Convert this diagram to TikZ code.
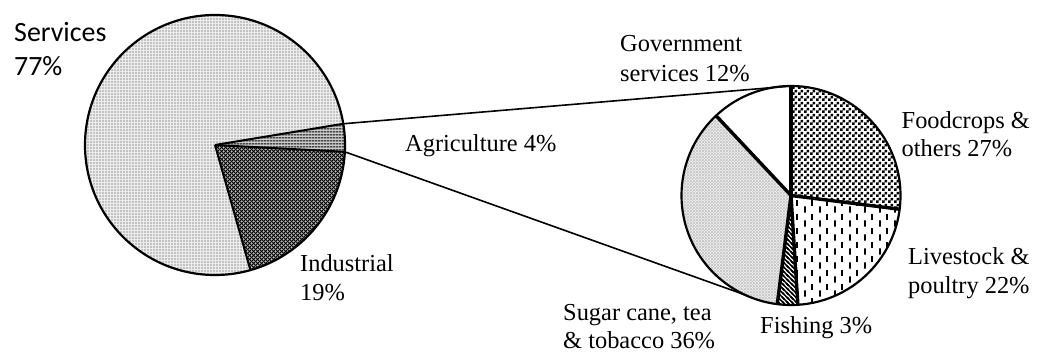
\documentclass[tikz,border=0pt]{standalone}
\usepackage{fontspec}
\setmainfont{Liberation Serif}
\newfontfamily\calib{Carlito}
\usetikzlibrary{patterns}
% pattern tiles
\pgfdeclarepatternformonly{servdots}{\pgfqpoint{0bp}{0bp}}{\pgfqpoint{3bp}{3bp}}{\pgfqpoint{3bp}{3bp}}{%
  \pgfpathrectangle{\pgfqpoint{0.6bp}{0.6bp}}{\pgfqpoint{1.7bp}{1.7bp}}\pgfusepath{fill}}
\pgfdeclarepatternformonly{aghl}{\pgfqpoint{0bp}{0bp}}{\pgfqpoint{3bp}{3bp}}{\pgfqpoint{3bp}{3bp}}{%
  \pgfsetlinewidth{1.3bp}\pgfpathmoveto{\pgfqpoint{-0.2bp}{1.5bp}}\pgfpathlineto{\pgfqpoint{3.2bp}{1.5bp}}\pgfusepath{stroke}}
\pgfdeclarepatternformonly{indx}{\pgfqpoint{0bp}{0bp}}{\pgfqpoint{4bp}{4bp}}{\pgfqpoint{4bp}{4bp}}{%
  \pgfsetlinewidth{1.1bp}%
  \pgfpathmoveto{\pgfqpoint{-0.5bp}{-0.5bp}}\pgfpathlineto{\pgfqpoint{4.5bp}{4.5bp}}%
  \pgfpathmoveto{\pgfqpoint{-0.5bp}{4.5bp}}\pgfpathlineto{\pgfqpoint{4.5bp}{-0.5bp}}\pgfusepath{stroke}}
\pgfdeclarepatternformonly{sugx}{\pgfqpoint{0bp}{0bp}}{\pgfqpoint{3bp}{3bp}}{\pgfqpoint{3bp}{3bp}}{%
  \pgfsetlinewidth{0.6bp}%
  \pgfpathmoveto{\pgfqpoint{-0.5bp}{-0.5bp}}\pgfpathlineto{\pgfqpoint{3.5bp}{3.5bp}}%
  \pgfpathmoveto{\pgfqpoint{-0.5bp}{3.5bp}}\pgfpathlineto{\pgfqpoint{3.5bp}{-0.5bp}}\pgfusepath{stroke}}
\pgfdeclarepatternformonly{fooddots}{\pgfqpoint{0bp}{0bp}}{\pgfqpoint{6bp}{6bp}}{\pgfqpoint{6bp}{6bp}}{%
  \pgfpathrectangle{\pgfqpoint{0bp}{0bp}}{\pgfqpoint{3bp}{3bp}}%
  \pgfpathrectangle{\pgfqpoint{3bp}{3bp}}{\pgfqpoint{3bp}{3bp}}\pgfusepath{fill}}
\pgfdeclarepatternformonly{livedash}{\pgfqpoint{0bp}{0bp}}{\pgfqpoint{14.6bp}{14bp}}{\pgfqpoint{14.6bp}{14bp}}{%
  \pgfsetlinewidth{1.8bp}%
  \pgfpathmoveto{\pgfqpoint{2bp}{0.5bp}}\pgfpathlineto{\pgfqpoint{2bp}{7bp}}%
  \pgfpathmoveto{\pgfqpoint{9.3bp}{7.5bp}}\pgfpathlineto{\pgfqpoint{9.3bp}{13.8bp}}\pgfusepath{stroke}}
\pgfdeclarepatternformonly{fishnw}{\pgfqpoint{-1bp}{-1bp}}{\pgfqpoint{5.5bp}{5.5bp}}{\pgfqpoint{4.5bp}{4.5bp}}{%
  \pgfsetlinewidth{1.4bp}%
  \pgfpathmoveto{\pgfqpoint{-1bp}{5.5bp}}\pgfpathlineto{\pgfqpoint{5.5bp}{-1bp}}%
  \pgfpathmoveto{\pgfqpoint{-1.5bp}{1.5bp}}\pgfpathlineto{\pgfqpoint{1.5bp}{-1.5bp}}%
  \pgfpathmoveto{\pgfqpoint{3bp}{6bp}}\pgfpathlineto{\pgfqpoint{6bp}{3bp}}\pgfusepath{stroke}}
\newcommand\pieslice[5]{% style, center, radius, start, end
  \path[#1] (#2) -- ++(#4:#3) arc[start angle=#4, end angle=#5, radius=#3] -- cycle;}
\begin{document}
\begin{tikzpicture}[x=1bp,y=1bp,
  serv/.style={fill=gray!15, postaction={pattern=servdots, pattern color=gray!90}},
  indu/.style={fill=gray!55, postaction={pattern=indx, pattern color=black}},
  agri/.style={fill=gray!40, postaction={pattern=aghl, pattern color=black}},
  food/.style={fill=white, postaction={pattern=fooddots, pattern color=black}},
  live/.style={fill=white, postaction={pattern=livedash, pattern color=black}},
  fish/.style={fill=white, postaction={pattern=fishnw, pattern color=black}},
  sugr/.style={fill=gray!10, postaction={pattern=sugx, pattern color=gray!50}},
  govt/.style={fill=white},
  lbl/.style={inner sep=0pt, anchor=base west, font=\fontsize{24.5}{29}\selectfont},
  sanslbl/.style={inner sep=0pt, anchor=base west, font=\calib\fontsize{28}{33}\selectfont},
  rim/.style={draw=black, line width=2.2bp},
  sep/.style={draw=black, line width=2bp},
  thicksep/.style={draw=black, line width=3.4bp},
  link/.style={draw=black, line width=1.6bp}]
\useasboundingbox (0,0) rectangle (1038,352);
% left pie
\coordinate (L) at (215,207);
\pieslice{serv}{L}{130}{-74.2}{-350.6}
\pieslice{indu}{L}{130}{-3}{-74.2}
\pieslice{agri}{L}{130}{9.4}{-3}
\draw[sep] (L) -- ++(9.4:130);
\draw[sep] (L) -- ++(-3:130);
\draw[sep] (L) -- ++(-74.2:130);
\draw[rim] (L) circle[radius=130];
% right pie
\coordinate (R) at (791,156.5);
\pieslice{food}{R}{109.5}{90}{-7.2}
\pieslice{live}{R}{109.5}{-7.2}{-86.4}
\pieslice{fish}{R}{109.5}{-86.4}{-97.2}
\pieslice{sugr}{R}{109.5}{-97.2}{-226.8}
\pieslice{govt}{R}{109.5}{-226.8}{-270}
\foreach \a in {90,-7.2,-86.4,-97.2,133.2}
  \draw[thicksep] (R) -- ++(\a:109.5);
\draw[rim] (R) circle[radius=109.5];
% connector end points
\path (L) ++(9.4:130) coordinate (agA);
\path (L) ++(-3:130) coordinate (agB);
\path (R) ++(90:109.5) coordinate (rtop);
\path (R) ++(-115:109.5) coordinate (rbot);
\draw[link] (agA) -- (rtop);
\draw[link] (agB) -- (rbot);
% labels
\node[sanslbl] (serv1) at (14,310.3) {Services};
\node[sanslbl] (serv2) at (14,277) {77\%};
\node[lbl] (ind1) at (300,80.3) {Industrial};
\node[lbl] (ind2) at (300,52) {19\%};
\node[lbl] (agr) at (405,200.3) {Agriculture 4\%};
\node[lbl] (gov1) at (620,300.3) {Government};
\node[lbl] (gov2) at (620,270.3) {services 12\%};
\node[lbl] (food1) at (901.5,223.7) {Foodcrops \&};
\node[lbl] (food2) at (901.5,195.3) {others 27\%};
\node[lbl] (live1) at (908,88) {Livestock \&};
\node[lbl] (live2) at (908,59) {poultry 22\%};
\node[lbl] (fishl) at (760,18.7) {Fishing 3\%};
\node[lbl] (sug1) at (563,31.3) {Sugar cane, tea};
\node[lbl] (sug2) at (563,4) {\& tobacco 36\%};
\end{tikzpicture}
\end{document}
